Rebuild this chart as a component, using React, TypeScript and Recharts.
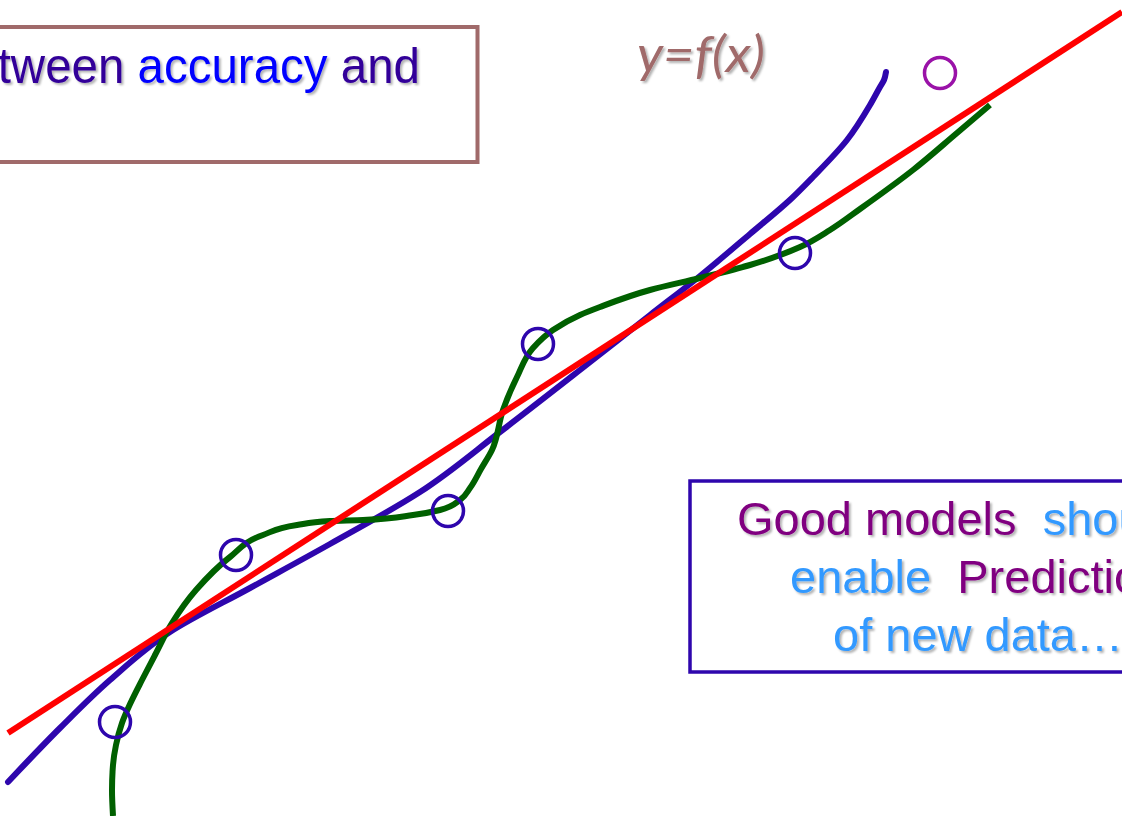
import React from 'react';
import { ComposedChart, Line, Scatter, XAxis, YAxis, ReferenceArea } from 'recharts';

const W = 1122;
const H = 816;

// plot units: x to the right, y upwards, one unit per pixel
const samplePoints = [
  { x: 115, y: 94 },
  { x: 236, y: 261 },
  { x: 448, y: 305 },
  { x: 538, y: 472 },
  { x: 795, y: 563 },
];

const newPoint = [{ x: 940, y: 743 }];

// straight-line fit
const linearFit = [
  { x: 8, y: 83 },
  { x: 1122, y: 804 },
];

// smooth, slightly curved fit
const smoothFit = [
  { x: 8, y: 34 },
  { x: 60, y: 88 },
  { x: 110, y: 136 },
  { x: 170, y: 184 },
  { x: 250, y: 228 },
  { x: 330, y: 272 },
  { x: 420, y: 324 },
  { x: 500, y: 384 },
  { x: 580, y: 446 },
  { x: 650, y: 501 },
  { x: 700, y: 540 },
  { x: 750, y: 582 },
  { x: 792, y: 618 },
  { x: 813, y: 639 },
  { x: 847, y: 676 },
  { x: 870, y: 711 },
  { x: 880, y: 729 },
  { x: 884, y: 736 },
  { x: 886, y: 744 },
];

// over-fitted curve through every sample
const wigglyFit = [
  { x: 113, y: 0 },
  { x: 112, y: 26 },
  { x: 113, y: 51 },
  { x: 116, y: 71 },
  { x: 122, y: 93 },
  { x: 131, y: 114 },
  { x: 142, y: 136 },
  { x: 155, y: 161 },
  { x: 172, y: 193 },
  { x: 196, y: 226 },
  { x: 230, y: 259 },
  { x: 263, y: 281 },
  { x: 297, y: 291 },
  { x: 330, y: 295 },
  { x: 363, y: 296 },
  { x: 413, y: 301 },
  { x: 440, y: 306 },
  { x: 460, y: 316 },
  { x: 470, y: 328 },
  { x: 481, y: 347 },
  { x: 492, y: 366 },
  { x: 503, y: 406 },
  { x: 517, y: 439 },
  { x: 533, y: 468 },
  { x: 553, y: 486 },
  { x: 580, y: 501 },
  { x: 600, y: 509 },
  { x: 650, y: 526 },
  { x: 700, y: 538 },
  { x: 750, y: 551 },
  { x: 800, y: 569 },
  { x: 830, y: 586 },
  { x: 860, y: 607 },
  { x: 913, y: 646 },
  { x: 957, y: 683 },
  { x: 990, y: 711 },
];

const ring = (color: string) => (props: any) => (
  <circle cx={props.cx} cy={props.cy} r={15.5} fill="none" stroke={color} strokeWidth={3.5} />
);

const sans = '"Liberation Sans", Arial, sans-serif';

export default function App() {
  return (
    <div style={{ position: 'absolute', left: 0, top: 0, width: W, height: H, background: '#fff' }}>
      <style>{'body { margin: 0; }'}</style>
      <ComposedChart width={W} height={H} margin={{ top: 0, right: 0, bottom: 0, left: 0 }}>
        <defs>
          <filter id="txtShadow" x="-10%" y="-20%" width="130%" height="160%">
            <feDropShadow dx="2" dy="2" stdDeviation="1.2" floodColor="#000" floodOpacity="0.3" />
          </filter>
        </defs>
        <XAxis type="number" dataKey="x" domain={[0, W]} hide allowDataOverflow />
        <YAxis type="number" dataKey="y" domain={[0, H]} hide allowDataOverflow width={0} />

        <ReferenceArea
          x1={-20}
          x2={477.5}
          y1={654}
          y2={789}
          fill="none"
          stroke="#a06a6a"
          strokeWidth={4}
          ifOverflow="hidden"
        />
        <ReferenceArea
          x1={690}
          x2={1160}
          y1={144}
          y2={335}
          fill="none"
          stroke="#2e06ad"
          strokeWidth={3.5}
          ifOverflow="hidden"
        />

        <Line
          data={smoothFit}
          dataKey="y"
          type="monotoneY"
          stroke="#2e06ad"
          strokeWidth={6}
          strokeLinecap="round"
          dot={false}
          activeDot={false}
          isAnimationActive={false}
        />
        <Line
          data={wigglyFit}
          dataKey="y"
          type="monotoneY"
          stroke="#006000"
          strokeWidth={6}
          dot={false}
          activeDot={false}
          isAnimationActive={false}
        />
        <Line
          data={linearFit}
          dataKey="y"
          type="linear"
          stroke="#ff0000"
          strokeWidth={6}
          dot={false}
          activeDot={false}
          isAnimationActive={false}
        />
        <Scatter data={samplePoints} shape={ring('#2e06ad')} isAnimationActive={false} />
        <Scatter data={newPoint} shape={ring('#9a12a8')} isAnimationActive={false} />

        <g filter="url(#txtShadow)" fontFamily={sans}>
          <text transform="translate(420,83) scale(0.95,1)" textAnchor="end" fontSize={50} fill="#330099">
            between <tspan fill="#0000ff">accuracy</tspan> and
          </text>
          <text
            x={637}
            y={72}
            fontFamily="Lato, sans-serif"
            fontStyle="italic"
            fontSize={50}
            fill="#a06a6a"
            textLength={128}
            lengthAdjust="spacingAndGlyphs"
          >
            y=f(x)
          </text>
          <text x={737} y={535} fontSize={47} fill="#800080" style={{ whiteSpace: 'pre' }}>
            {'Good models  '}
            <tspan fill="#3399ff">should</tspan>
          </text>
          <text x={790} y={593} fontSize={47} fill="#3399ff" style={{ whiteSpace: 'pre' }}>
            {'enable  '}
            <tspan fill="#800080">Prediction</tspan>
          </text>
          <text x={833} y={651} fontSize={47} fill="#3399ff">
            of new data…
          </text>
        </g>
      </ComposedChart>
    </div>
  );
}
